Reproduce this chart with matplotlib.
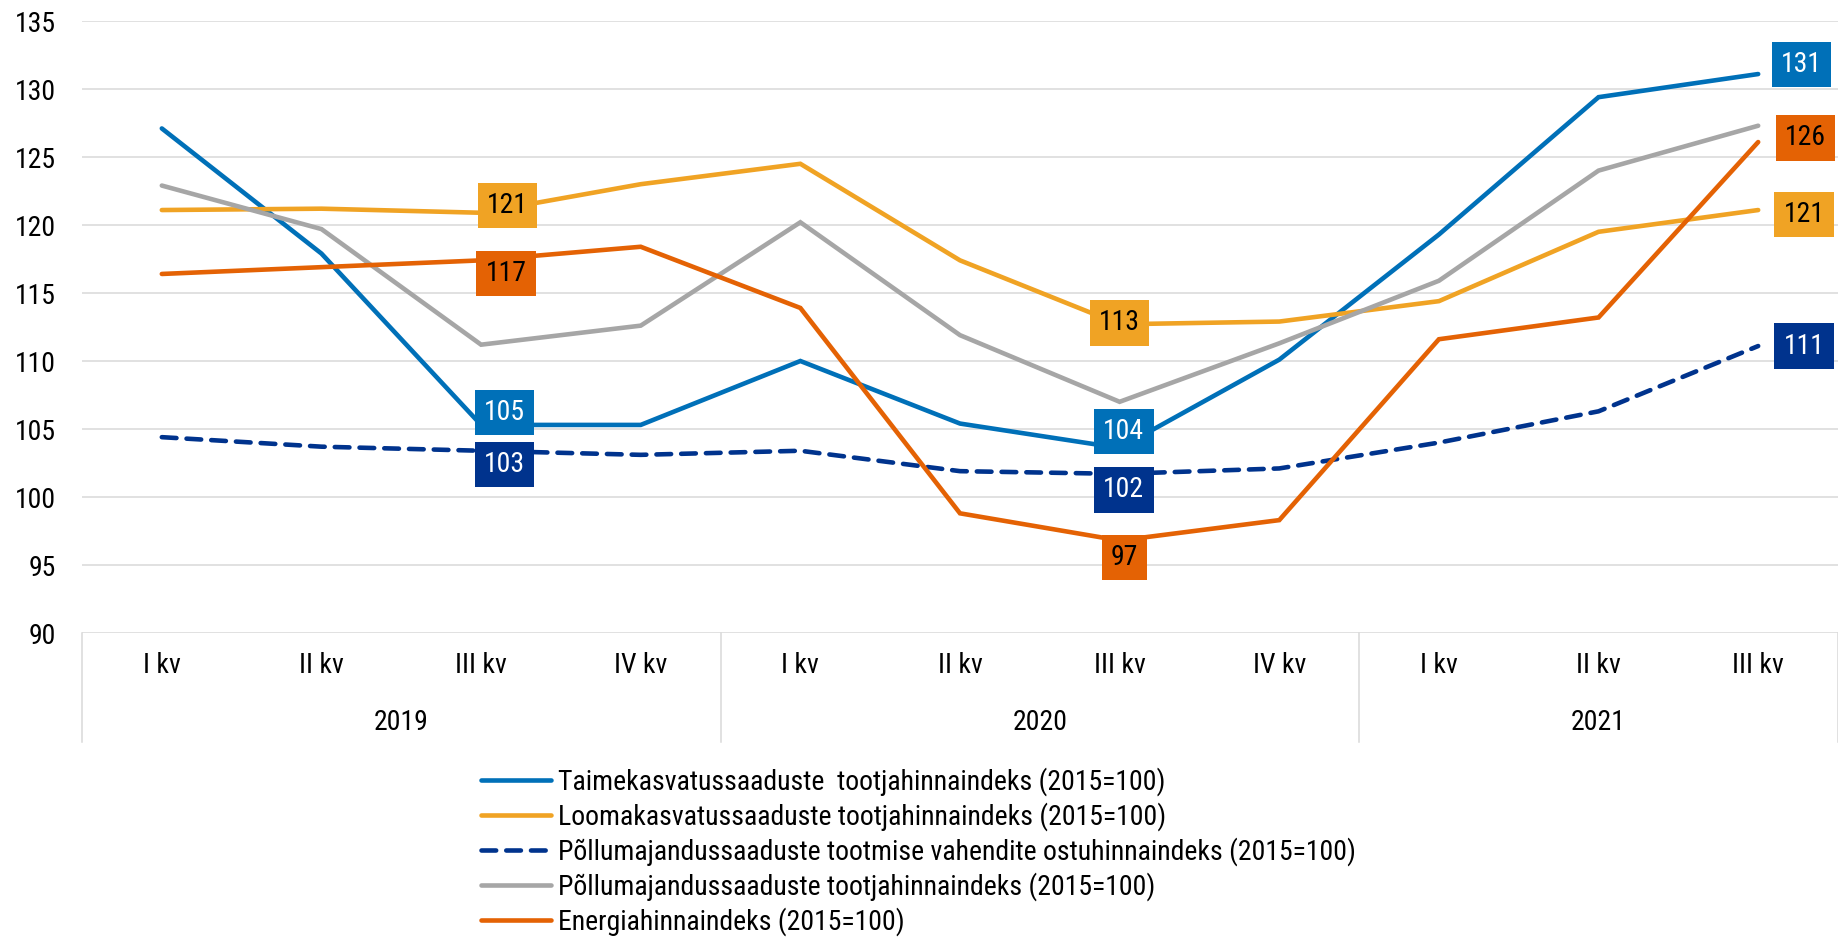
import matplotlib
matplotlib.use("Agg")
import matplotlib.pyplot as plt
import matplotlib.font_manager as fm
import matplotlib.transforms as mtransforms
from matplotlib.lines import Line2D

# ---------------- data ----------------
quarters = ["I kv", "II kv", "III kv", "IV kv", "I kv", "II kv", "III kv", "IV kv", "I kv", "II kv", "III kv"]
years = ["2019", "2020", "2021"]
year_quarters = [4, 4, 3]

taime = [127.1, 117.9, 105.3, 105.3, 110.0, 105.4, 103.6, 110.1, 119.3, 129.4, 131.1]
looma = [121.1, 121.2, 120.9, 123.0, 124.5, 117.4, 112.7, 112.9, 114.4, 119.5, 121.1]
vahendid = [104.4, 103.7, 103.4, 103.1, 103.4, 101.9, 101.7, 102.1, 104.0, 106.3, 111.1]
pollu = [122.9, 119.7, 111.2, 112.6, 120.2, 111.9, 107.0, 111.3, 115.9, 124.0, 127.3]
energia = [116.4, 116.9, 117.4, 118.4, 113.9, 98.8, 96.8, 98.3, 111.6, 113.2, 126.1]

series_names = [
    "Taimekasvatussaaduste  tootjahinnaindeks (2015=100)",
    "Loomakasvatussaaduste tootjahinnaindeks (2015=100)",
    "Põllumajandussaaduste tootmise vahendite ostuhinnaindeks (2015=100)",
    "Põllumajandussaaduste tootjahinnaindeks (2015=100)",
    "Energiahinnaindeks (2015=100)",
]
series_values = [taime, looma, vahendid, pollu, energia]

# ---------------- style ----------------
colors = ["#0070B8", "#F0A324", "#00338D", "#A6A6A6", "#E46204"]
label_text_colors = ["white", "black", "white", "black", "black"]
styles = ["solid", "solid", (0, (3.2, 2.2)), "solid", "solid"]
# labelled points: series index -> list of (point index, dx pt, dy pt)
label_spec = {
    0: [(2, 17, 9), (6, 3, 12), (10, 31, 7)],
    1: [(2, 19, 5), (6, 0, 1), (10, 33, -3)],
    2: [(2, 17, -10), (6, 3, -11.5), (10, 33, 0)],
    4: [(2, 18, -9.5), (6, 3.5, -12), (10, 34, 3)],
}

names = {f.name for f in fm.fontManager.ttflist}
if "Roboto Condensed" in names:
    fam, fs, lfs = "Roboto Condensed", 20, 20
else:
    fam, fs, lfs = "Roboto", 18.3, 19.2
plt.rcParams["font.family"] = [fam, "DejaVu Sans"]

W, H = 1838, 938
fig = plt.figure(figsize=(W / 100, H / 100), dpi=100)
left, right, top, bottom = 82, 1838, 21, 633
ax = fig.add_axes([left / W, 1 - bottom / H, (right - left) / W, (bottom - top) / H])

x = list(range(len(quarters)))
lines = []
for i, (vals, col, ls) in enumerate(zip(series_values, colors, styles)):
    (ln,) = ax.plot(x, vals, color=col, linewidth=3.3, linestyle=ls,
                    solid_capstyle="round", dash_capstyle="round",
                    solid_joinstyle="miter", zorder=3 + i * 0.1, label=series_names[i])
    lines.append(ln)

for si, specs in label_spec.items():
    for (pi, dx, dy) in specs:
        v = series_values[si][pi]
        ax.annotate(f"{v:.0f}", (x[pi], v), xytext=(dx, dy), textcoords="offset points",
                    ha="center", va="center", fontsize=fs, color=label_text_colors[si],
                    bbox=dict(boxstyle="square,pad=0.33", fc=colors[si], ec="none"),
                    zorder=10)

ax.set_xlim(-0.5, len(quarters) - 0.5)
ax.set_ylim(90, 135)
ax.set_yticks(range(90, 136, 5))
ax.grid(axis="y", color="#D9D9D9", linewidth=1.1, zorder=0)
ax.set_axisbelow(True)
for s in ax.spines.values():
    s.set_visible(False)
ax.tick_params(axis="y", length=0, pad=19, labelsize=fs, colors="black")
ax.set_xticks(x)
ax.set_xticklabels(quarters)
ax.tick_params(axis="x", length=0, pad=14, labelsize=fs, colors="black")

axh = bottom - top
trans = mtransforms.blended_transform_factory(ax.transData, ax.transAxes)
sep_bottom = -(742 - bottom) / axh
bounds = [-0.5]
for n in year_quarters:
    bounds.append(bounds[-1] + n)
for b in bounds:
    ax.add_line(Line2D([b, b], [0, sep_bottom], transform=trans, color="#D9D9D9",
                       linewidth=1.1, clip_on=False))
year_y = -(723 - bottom) / axh
for yname, b0, b1 in zip(years, bounds[:-1], bounds[1:]):
    ax.text((b0 + b1) / 2, year_y, yname, transform=trans, ha="center", va="center",
            fontsize=fs, color="black")

text_h_px = 1.045 * lfs / 0.72
leg_top = 782 - text_h_px / 2
fig.legend(handles=lines, labels=series_names, loc="upper left",
           bbox_to_anchor=(481 / W, 1 - leg_top / H), frameon=False,
           borderpad=0, borderaxespad=0, handlelength=50.4 / lfs,
           handletextpad=5 / lfs, labelspacing=(25.4 - 1.045 * lfs) / lfs, fontsize=lfs)

fig.savefig("out.png", dpi=100)
